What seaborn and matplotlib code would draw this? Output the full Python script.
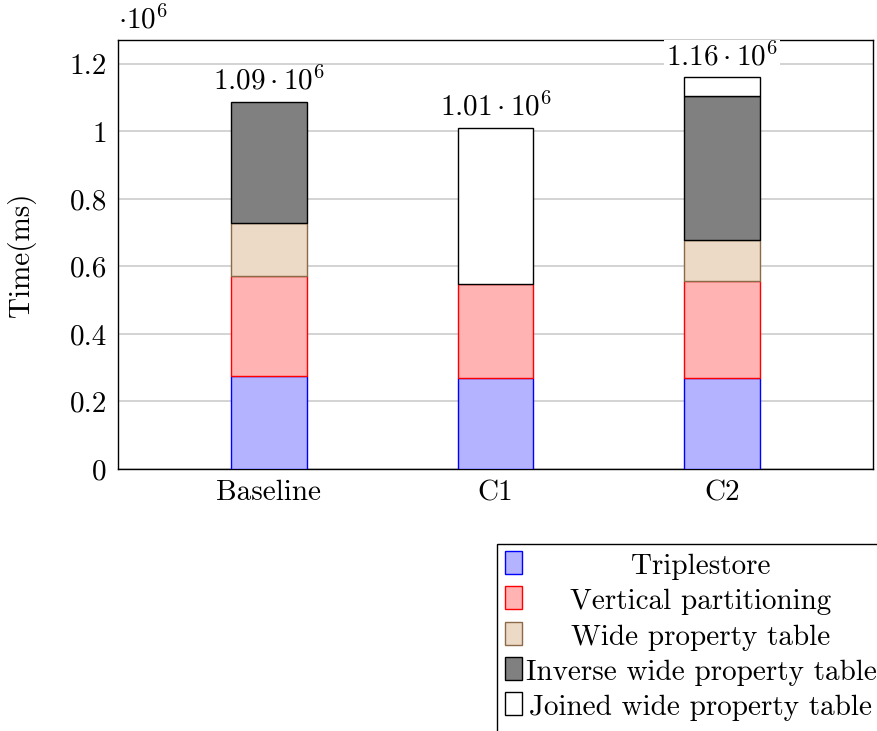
import numpy as np
import pandas as pd
import matplotlib
matplotlib.use("Agg")
import matplotlib.pyplot as plt
import seaborn as sns
from matplotlib.patches import Rectangle
from matplotlib.ticker import FuncFormatter

# DADOS #
configs = ["Baseline", "C1", "C2"]
series = ["Triplestore", "Vertical partitioning", "Wide property table",
          "Inverse wide property table", "Joined wide property table"]
triplestore = [276000, 270000, 270000]
vertical = [296000, 278000, 287000]
wide = [157000, 0, 122000]
inverse = [358000, 0, 426000]
joined = [0, 462000, 55000]

fills = ["#b3b3ff", "#ffb3b3", "#ecd9c6", "#808080", "#ffffff"]
edges = ["#0000ff", "#ff0000", "#8c6a48", "#000000", "#000000"]

sns.set_theme(style="white")
plt.rcParams["font.family"] = ["cmr10", "DejaVu Serif"]
plt.rcParams["mathtext.fontset"] = "cm"
plt.rcParams["axes.formatter.use_mathtext"] = True
plt.rcParams["axes.unicode_minus"] = False
plt.rcParams["text.color"] = "black"
plt.rcParams["axes.labelcolor"] = "black"
plt.rcParams["xtick.color"] = "black"
plt.rcParams["ytick.color"] = "black"
fs = 21

W, H = 878, 731
fig = plt.figure(figsize=(W / 100, H / 100), dpi=100)
ax = fig.add_axes([118 / W, 1 - 469 / H, (873 - 118) / W, (469 - 40) / H])

layers = [triplestore, vertical, wide, inverse, joined]
bottom = np.zeros(len(configs))
for vals, fc, ec in zip(layers, fills, edges):
    sns.barplot(x=configs, y=vals, bottom=bottom, color=fc, edgecolor=ec,
                linewidth=1.0, width=0.335, saturation=1, ax=ax, zorder=3)
    bottom = bottom + np.array(vals)

# tira as barras de altura zero
for p in ax.patches:
    if p.get_height() == 0:
        p.set_visible(False)

totals = bottom
for i, t in enumerate(totals):
    ax.annotate(f"${t / 1e6:.2f}\\cdot10^{{6}}$", (i, t), xytext=(0, 15),
                textcoords="offset points", ha="center", va="center",
                fontsize=fs, zorder=5,
                bbox=dict(fc="white", ec="none", pad=1.5))

ax.set_xlim(-0.665, 2.665)
ax.set_ylim(0, 1.271e6)
ax.set_yticks(np.arange(0, 1.21e6, 0.2e6))
ax.yaxis.set_major_formatter(FuncFormatter(lambda v, p: f"{v / 1e6:g}"))
ax.yaxis.grid(True, color="#c8c8c8", linewidth=1.1)
ax.set_axisbelow(True)
ax.tick_params(axis="both", labelsize=fs, direction="in", length=5,
               color="#999999", labelcolor="black", pad=8)
ax.tick_params(axis="x", length=0)
for s in ax.spines.values():
    s.set_color("black")
    s.set_linewidth(1.0)
ax.set_ylabel("Time(ms)", fontsize=fs, labelpad=24)
ax.set_xlabel("")

fig.text(118 / W, 1 - 20 / H, r"$\cdot10^{6}$", fontsize=fs, ha="left", va="center")

# LEGENDA #
fig.add_artist(Rectangle((497 / W, 1 - 760 / H), 420 / W, (760 - 544) / H,
                         transform=fig.transFigure, fc="white", ec="black", lw=1.0))
ys = [562, 597, 633, 668, 703]
for name, fc, ec, y in zip(series, fills, edges, ys):
    fig.add_artist(Rectangle((505 / W, 1 - (y + 11.5) / H), 17 / W, 23 / H,
                             transform=fig.transFigure, fc=fc, ec=ec, lw=1.0))
    fig.text(701 / W, 1 - (y + 5) / H, name, fontsize=fs, ha="center", va="center")

fig.savefig("out.png", dpi=100)
